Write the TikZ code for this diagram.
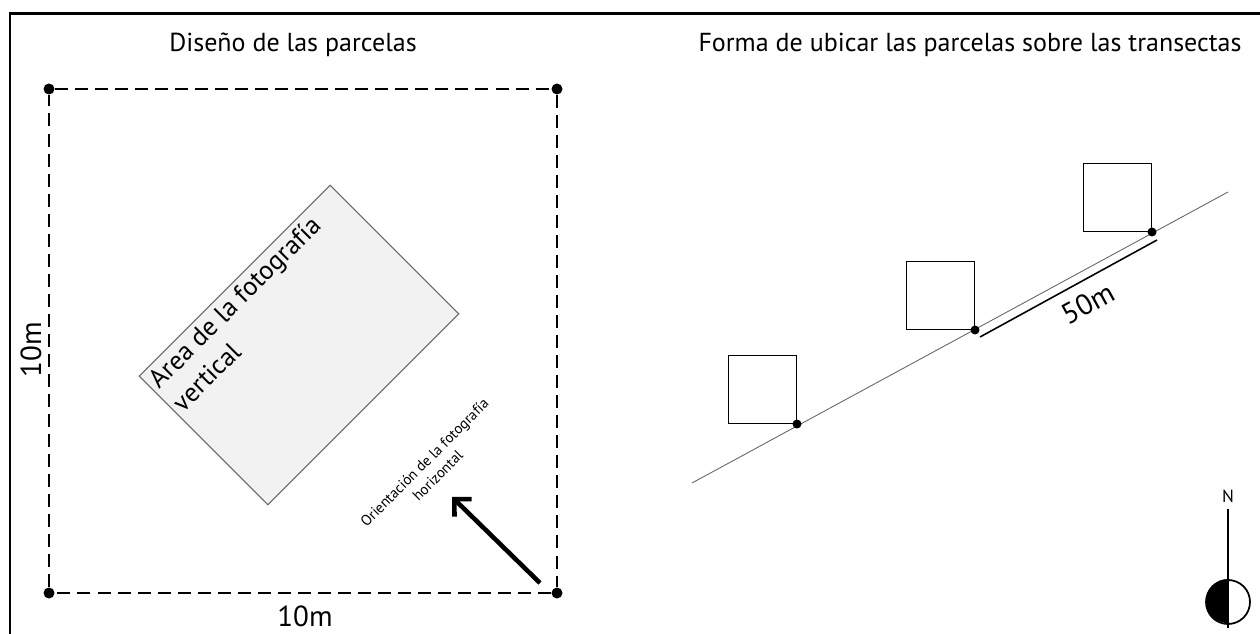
\documentclass[tikz,border=0pt]{standalone}
\usepackage{fontspec}
\setmainfont{PT Sans}
\usetikzlibrary{
	positioning,   %定位
	arrows.meta,   %箭头
	calc
}
\tikzset{
	every picture/.style={
		>=latex,
		node distance=5mm and 5mm
}}
\tikzset{corner/.style={circle,fill=black,inner sep=0pt,minimum size=0.22cm}}
\tikzset{limit/.style={dash pattern=on 7.4pt off 4pt,line width=0.75pt}}
\tikzset{spot/.style={circle,fill=black,inner sep=0pt,minimum size=0.18cm}}
\tikzset{plotsq/.style={draw,line width=0.7pt,inner sep=0pt,minimum size=1.36cm,anchor=south east}}
\tikzset{heading/.style={font=\fontsize{14.8}{17}\selectfont}}
\tikzset{measure/.style={font=\fontsize{16.5}{19}\selectfont}}

\begin{document}
\begin{tikzpicture}[x=0.02cm,y=-0.02cm]
	\useasboundingbox (0,0) rectangle (1260,634);
	% marco
	\draw[line width=1.7pt] (1260,14) -- (10,14) -- (10,634);
	% titulos
	\node[heading] (title1) at (293,45) {Diseño de las parcelas};
	\node[heading] (title2) at (970,45) {Forma de ubicar las parcelas sobre las transectas};
	% parcela
	\node[corner] (nw) at (49,89) {};
	\node[corner] (ne) at (557,89) {};
	\node[corner] (sw) at (49,593) {};
	\node[corner] (se) at (557,593) {};
	\draw[limit] (nw) -- (ne) -- (se) -- (sw) -- (nw);
	\node[measure] (sizebottom) at (305,616) {10m};
	\node[measure,rotate=90] (sizeleft) at (31,350) {10m};
	% foto
	\node[draw=black!60,fill=black!5,line width=0.6pt,minimum width=5.4cm,minimum height=3.64cm,rotate=45] (photo) at (299,345) {};
	\node[rotate=45,anchor=north west,align=left,inner sep=3pt,font=\fontsize{15}{19}\selectfont] (phototxt) at (photo.north west) {Area de la fotografía\\vertical};
	\coordinate (arrtail) at (540,583);
	\coordinate (arrtip) at (452,497);
	\draw[line width=2.6pt,-{Straight Barb[length=7pt,width=14pt]}] (arrtail) -- (arrtip);
	\node[rotate=45,align=center,font=\fontsize{8.4}{10.5}\selectfont] (orient) at (431,469) {Orientación de la fotografía\\horizontal};
	% transecta
	\coordinate (tA) at (692,483);
	\coordinate (tB) at (1228,192);
	\draw[black!60,line width=0.5pt] (tA) -- (tB);
	\node[plotsq] (sq1) at (797,424) {};
	\node[plotsq] (sq2) at (975,330) {};
	\node[plotsq] (sq3) at (1152,232) {};
	\node[spot] (p1) at (sq1.south east) {};
	\node[spot] (p2) at (sq2.south east) {};
	\node[spot] (p3) at (sq3.south east) {};
	\coordinate (m1) at (980,337);
	\coordinate (m2) at (1157,240);
	\draw[line width=0.9pt] (m1) -- node[measure,sloped,below=3pt,pos=0.55] (dist) {50m} (m2);
	% norte
	\node[font=\fontsize{10}{12}\selectfont] (north) at (1228,496) {N};
	\node[draw,circle,line width=1pt,minimum size=0.88cm,inner sep=0pt] (compass) at (1228,602) {};
	\fill (compass.north) arc[start angle=90,end angle=270,radius=0.44cm] -- cycle;
	\coordinate (needle) at (1228,628);
	\draw[line width=1pt] (north) -- (needle);
\end{tikzpicture}
\end{document}
